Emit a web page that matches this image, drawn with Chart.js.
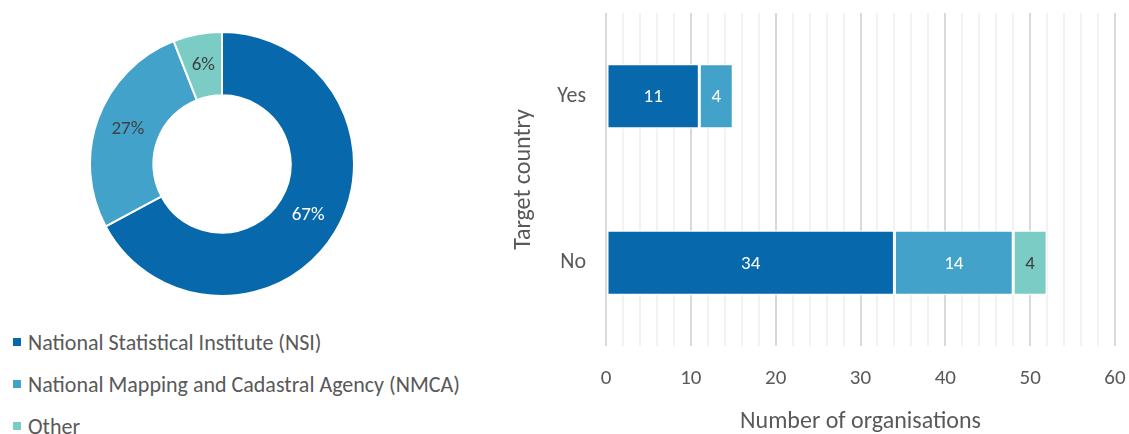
<!DOCTYPE html>
<html>
<head>
<meta charset="utf-8">
<script src="https://cdn.jsdelivr.net/npm/chart.js@4.4.1/dist/chart.umd.min.js"></script>
<style>
  body { margin: 0; width: 1129px; height: 434px; background: #fff; position: relative; overflow: hidden; font-family: Carlito, Lato, sans-serif; }
  #pieBox { position: absolute; left: 89px; top: 31px; width: 266px; height: 266px; }
  #barBox { position: absolute; left: 490px; top: 0; width: 639px; height: 434px; }
  #legend { position: absolute; left: 13px; top: 329px; color: #595959; font-size: 22px; }
  #legend div { height: 42px; line-height: 28px; white-space: nowrap; }
  #legend span { display: inline-block; width: 8px; height: 8px; margin-right: 7px; vertical-align: 4px; }
</style>
</head>
<body>
<div id="pieBox"><canvas id="pieChart"></canvas></div>
<div id="legend"></div>
<div id="barBox"><canvas id="barChart"></canvas></div>
<script>
// Dados
const tipos = ['National Statistical Institute (NSI)', 'National Mapping and Cadastral Agency (NMCA)', 'Other'];
const cores = ['#0868ac', '#43a2ca', '#7bccc4'];
const textoPie = ['#ffffff', '#404040', '#404040'];
const textoBarra = ['#ffffff', '#ffffff', '#404040'];
const totais = [45, 18, 4];

const paises = ['Yes', 'No'];
const nsi = [11, 34];
const nmca = [4, 14];
const outros = [0, 4];
const xTicks = [0, 10, 20, 30, 40, 50, 60];

const fonte = 'Carlito, Lato, sans-serif';
const cinza = '#595959';

// Legenda HTML
const legenda = document.getElementById('legend');
tipos.forEach((t, i) => {
    const d = document.createElement('div');
    const s = document.createElement('span');
    s.style.background = cores[i];
    d.appendChild(s);
    d.appendChild(document.createTextNode(t));
    legenda.appendChild(d);
});

// Rótulos da rosca
const rotulosPie = {
    id: 'rotulosPie',
    afterDatasetsDraw(chart) {
        const ctx = chart.ctx;
        const meta = chart.getDatasetMeta(0);
        const total = totais.reduce((a, b) => a + b, 0);
        ctx.save();
        ctx.font = '19px ' + fonte;
        ctx.textAlign = 'center';
        ctx.textBaseline = 'middle';
        meta.data.forEach((arc, i) => {
            const p = arc.tooltipPosition();
            ctx.fillStyle = textoPie[i];
            ctx.fillText(Math.round(totais[i] / total * 100) + '%', p.x, p.y);
        });
        ctx.restore();
    }
};

new Chart(document.getElementById('pieChart'), {
    type: 'doughnut',
    data: {
        labels: tipos,
        datasets: [{
            data: totais,
            backgroundColor: cores,
            borderColor: '#ffffff',
            borderWidth: 2,
            hoverOffset: 0
        }]
    },
    options: {
        responsive: true,
        maintainAspectRatio: false,
        animation: false,
        cutout: '52%',
        plugins: { legend: { display: false }, tooltip: { enabled: false } }
    },
    plugins: [rotulosPie]
});

// Rótulos das barras
const rotulosBarra = {
    id: 'rotulosBarra',
    afterDatasetsDraw(chart) {
        const ctx = chart.ctx;
        ctx.save();
        ctx.font = '19px ' + fonte;
        ctx.textAlign = 'center';
        ctx.textBaseline = 'middle';
        chart.data.datasets.forEach((ds, di) => {
            chart.getDatasetMeta(di).data.forEach((bar, i) => {
                if (!ds.data[i]) return;
                const p = bar.getCenterPoint();
                ctx.fillStyle = textoBarra[di];
                ctx.fillText(ds.data[i], p.x, p.y + 1);
            });
        });
        ctx.restore();
    }
};

const series = [nsi, nmca, outros];
new Chart(document.getElementById('barChart'), {
    type: 'bar',
    data: {
        labels: paises,
        datasets: tipos.map((t, i) => ({
            label: t,
            data: series[i],
            backgroundColor: cores[i],
            borderColor: '#ffffff',
            borderWidth: 1.5,
            borderSkipped: false,
            barPercentage: 0.39,
            categoryPercentage: 1
        }))
    },
    options: {
        indexAxis: 'y',
        responsive: true,
        maintainAspectRatio: false,
        animation: false,
        layout: { padding: { top: 13, right: 14, bottom: 0, left: 0 } },
        plugins: { legend: { display: false }, tooltip: { enabled: false } },
        scales: {
            x: {
                stacked: true,
                min: 0,
                max: 60,
                afterFit(scale) {
                    scale.height = 88;
                    scale.paddingLeft = 0;
                    scale.paddingRight = 0;
                },
                border: { display: false },
                grid: {
                    drawTicks: false,
                    lineWidth: 2,
                    color: c => (xTicks.includes(c.tick.value) ? '#d9d9d9' : '#f2f2f2')
                },
                ticks: {
                    stepSize: 2,
                    autoSkip: false,
                    maxRotation: 0,
                    padding: 20,
                    color: cinza,
                    font: { family: fonte, size: 21 },
                    callback: v => (xTicks.includes(v) ? v : '')
                },
                title: {
                    display: true,
                    text: 'Number of organisations',
                    color: cinza,
                    font: { family: fonte, size: 24 },
                    padding: { top: 0, bottom: -2 }
                }
            },
            y: {
                stacked: true,
                afterFit(scale) {
                    scale.width = 116;
                    scale.paddingTop = 0;
                    scale.paddingBottom = 0;
                },
                border: { display: false },
                grid: { display: false, drawTicks: false },
                ticks: {
                    padding: 20,
                    color: cinza,
                    font: { family: fonte, size: 22 }
                },
                title: {
                    display: true,
                    text: 'Target country',
                    color: cinza,
                    font: { family: fonte, size: 24 },
                    padding: { top: 20, bottom: 0 }
                }
            }
        }
    },
    plugins: [rotulosBarra]
});
</script>
</body>
</html>
